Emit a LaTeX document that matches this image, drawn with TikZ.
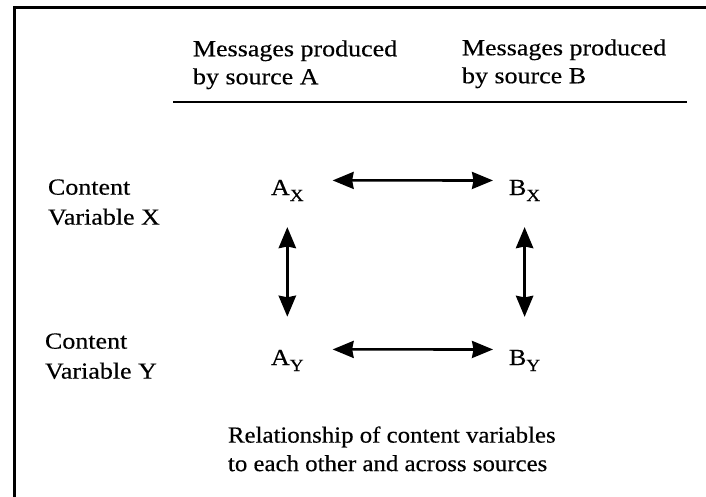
\documentclass[tikz,border=0pt]{standalone}
\usepackage{fontspec}
\setmainfont{Liberation Serif}[FakeStretch=1.13,FakeBold=0.4]
\newfontfamily\capfont{Liberation Serif}[FakeStretch=1.08,FakeBold=0.4]
\usetikzlibrary{arrows.meta}
\tikzset{
  txt/.style={inner sep=0pt, outer sep=0pt, align=left, anchor=north west, font=\fontsize{23}{28}\selectfont},
  txtw/.style={txt, font=\fontsize{23}{30}\selectfont},
  captxt/.style={txt, font=\capfont\fontsize{23}{28.5}\selectfont},
  var/.style={inner sep=0pt, outer sep=0pt, anchor=base west, font=\fontsize{23}{28}\selectfont},
  tip/.tip={Triangle[length=21pt,width=17pt,inset=1.5pt]},
  harrow/.style={line width=2.6pt, tip-tip},
  varrow/.style={line width=3.6pt, tip-tip},
  rule/.style={line width=2.6pt}
}
\newcommand{\subx}[1]{\raisebox{-6pt}{\fontsize{17}{17}\selectfont #1}}
\begin{document}
\begin{tikzpicture}[x=1pt,y=-1pt]
\useasboundingbox (0,0) rectangle (706,497);
% frame (top and left only)
\coordinate (ftr) at (706,8);
\coordinate (ftl) at (14,8);
\coordinate (fbl) at (14,497);
\draw[line width=3pt] (ftr) -- (ftl) -- (fbl);
% column headers
\node[txt] (ha) at (193,40.3) {Messages produced\\by source A};
\node[txt] (hb) at (462,39.3) {Messages produced\\by source B};
\coordinate (ul) at (173,102);
\coordinate (ur) at (687,102);
\draw[rule] (ul) -- (ur);
% row labels
\node[txtw] (rx) at (48,179.4) {Content\\Variable X};
\node[txtw] (ry) at (45,333.4) {Content\\Variable Y};
% variables
\node[var] (ax) at (271,195) {A\subx{X}};
\node[var] (bx) at (509,195) {B\subx{X}};
\node[var] (ay) at (271,365) {A\subx{Y}};
\node[var] (by) at (509,365) {B\subx{Y}};
% arrows
\draw[harrow, shorten <=29pt, shorten >=16pt] ([yshift=10pt]ax.east) -- ([yshift=10pt]bx.west);
\draw[harrow, shorten <=29pt, shorten >=16pt] ([yshift=11pt]ay.east) -- ([yshift=11pt]by.west);
\draw[varrow, shorten <=26pt, shorten >=33pt] (ax.south) -- (ay.north);
\draw[varrow, shorten <=26pt, shorten >=33pt] (bx.south) -- (by.north);
% caption
\node[captxt] (cap) at (228,426.4) {Relationship of content variables\\to each other and across sources};
\end{tikzpicture}
\end{document}
